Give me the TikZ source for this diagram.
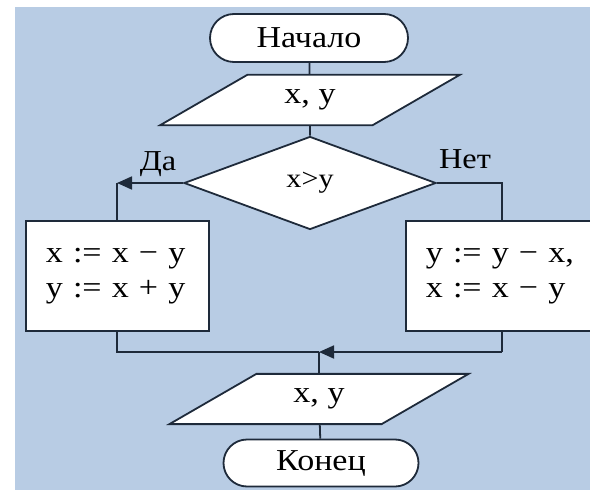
\documentclass[tikz,border=0pt]{standalone}
\usepackage{fontspec}
\setmainfont{Liberation Serif}[FakeStretch=1.12]
\usetikzlibrary{shapes.geometric,shapes.misc,arrows.meta}
\definecolor{bgblue}{RGB}{184,204,228}
\definecolor{ink}{RGB}{30,42,58}
\begin{document}
\begin{tikzpicture}[x=1bp,y=-1bp,
    every node/.style={font=\fontsize{30.5}{35}\selectfont},
    line/.style={draw=ink,line width=1.8bp},
    term/.style={line,fill=white,rounded rectangle,minimum width=198bp,minimum height=48bp,inner sep=0pt},
    io/.style={line,fill=white,trapezium,trapezium left angle=30,trapezium right angle=150,minimum width=300bp,minimum height=40bp,inner sep=0pt},
    act/.style={line,fill=white,rectangle,minimum height=110bp,inner xsep=20bp,align=left,anchor=west},
    yesno/.style={font=\fontsize{29}{32}\selectfont}]
  \useasboundingbox (0,0) rectangle (590,490);
  \clip (0,0) rectangle (590,490);
  \fill[white] (0,0) rectangle (590,490);
  \fill[bgblue] (15,7) rectangle (590,490);
  \node[term] (start) at (309,38) {Начало};
  \node[io] (in) at (310,100) {x, y};
  \node[line,fill=white,diamond,minimum width=252bp,minimum height=93bp,inner sep=0pt,font=\fontsize{27}{30}\selectfont] (cond) at (310,183) {x>y};
  \node[act,text width=143bp] (yes) at (25,276) {x := x − y\\y := x + y};
  \node[act,text width=160bp] (no) at (405,276) {y := y − x,\\x := x − y};
  \node[io,minimum height=38bp] (out) at (319,399) {x, y};
  \node[term,minimum width=195bp,minimum height=47bp] (stop) at (321,463) {Конец};
  \node[yesno] (da) at (158,164) {Да};
  \node[yesno] (net) at (465,159) {Нет};
  \coordinate (ya) at (117,183);
  \coordinate (na) at (502,183);
  \coordinate (yb) at (117,352);
  \coordinate (nb) at (502,352);
  \coordinate (mid) at (out.north |- yb);
  \draw[line] (start) -- (in);
  \draw[line] (in) -- (cond);
  \draw[line,-{Triangle[length=15bp,width=13bp]}] (cond.west) -- (ya);
  \draw[line] (ya) -- (ya |- yes.north);
  \draw[line] (cond.east) -- (na) -- (na |- no.north);
  \draw[line] (ya |- yes.south) -- (yb) -- (mid);
  \draw[line] (na |- no.south) -- (nb);
  \draw[line,-{Triangle[length=15bp,width=13bp]}] (nb) -- (mid);
  \draw[line] (mid) -- (out);
  \draw[line] (out) -- (stop);
\end{tikzpicture}
\end{document}
